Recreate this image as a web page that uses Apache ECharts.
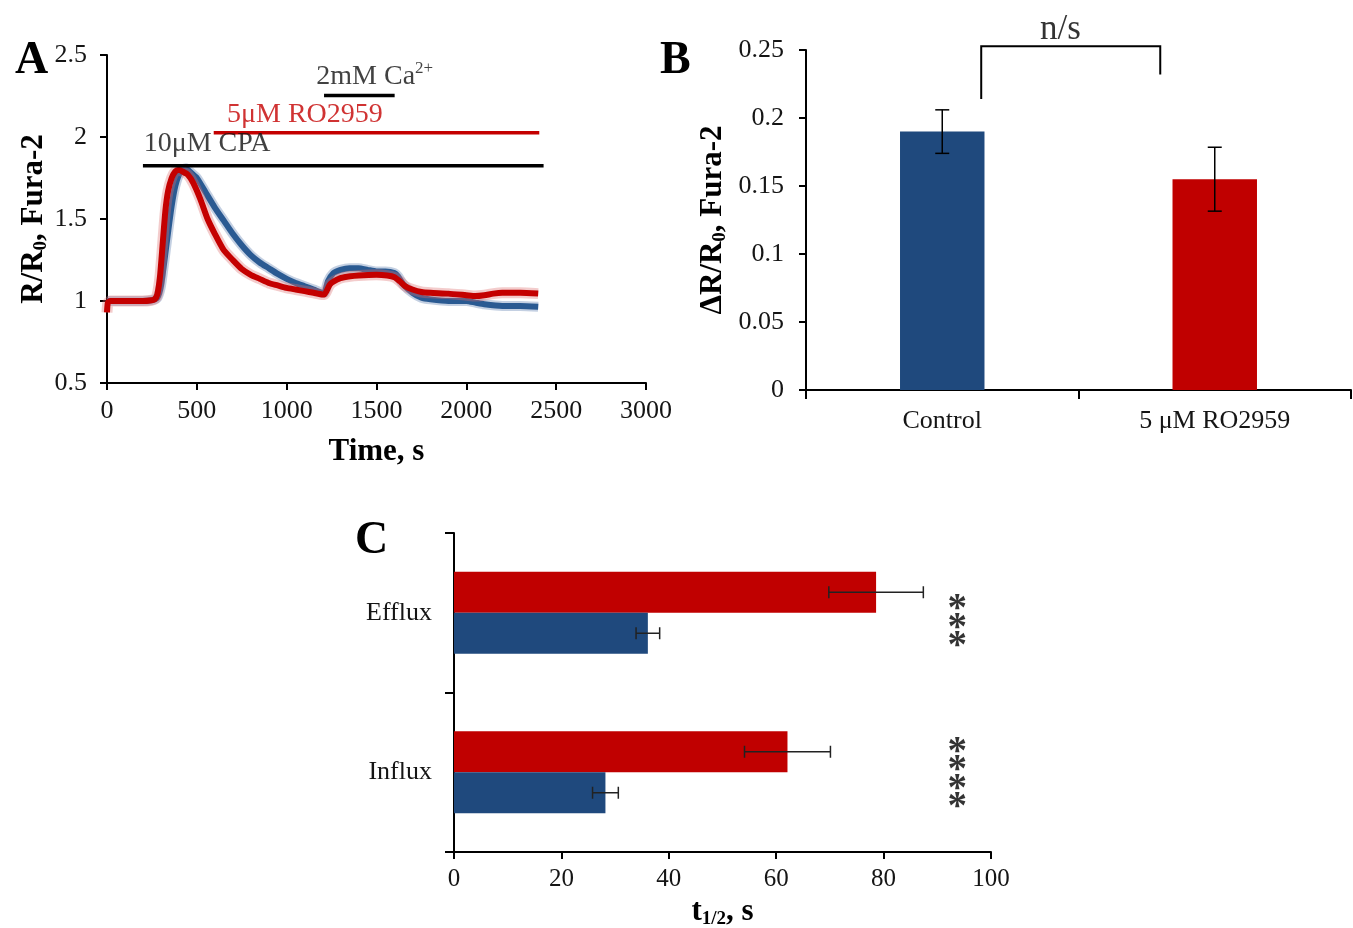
<!DOCTYPE html>
<html>
<head>
<meta charset="utf-8">
<script src="https://cdn.jsdelivr.net/npm/echarts@6/dist/echarts.min.js"></script>
<style>
  html, body { margin: 0; padding: 0; background: #fff; }
  #chart { width: 1353px; height: 928px; }
</style>
</head>
<body>
<div id="chart"></div>
<script>
// ---- Panel A: Fura-2 ratio traces ----
const controlTime  = [0,50,100,150,200,250,280,300,320,340,360,380,400,420,440,460,500,550,600,650,700,750,800,850,900,950,1000,1050,1100,1150,1200,1210,1230,1260,1300,1350,1400,1450,1500,1550,1600,1620,1650,1700,1750,1800,1900,2000,2050,2100,2200,2300,2400];
const controlRatio = [1.00,1.00,1.00,1.00,1.00,1.005,1.02,1.09,1.25,1.42,1.58,1.70,1.77,1.80,1.81,1.79,1.75,1.66,1.57,1.49,1.41,1.34,1.28,1.235,1.20,1.165,1.135,1.11,1.09,1.07,1.05,1.05,1.12,1.17,1.19,1.20,1.20,1.19,1.18,1.18,1.17,1.15,1.10,1.05,1.02,1.01,1.00,1.00,0.99,0.98,0.97,0.97,0.965];
const roTime  = [0,5,20,100,200,250,265,280,295,310,325,340,360,380,400,420,450,480,520,560,600,650,700,750,800,850,900,950,1000,1050,1100,1150,1200,1210,1240,1280,1320,1400,1500,1560,1600,1630,1660,1700,1750,1800,1900,2000,2050,2100,2150,2200,2300,2400];
const roRatio = [0.93,0.99,1.00,1.00,1.00,1.005,1.01,1.04,1.15,1.35,1.55,1.67,1.75,1.79,1.80,1.79,1.77,1.72,1.62,1.50,1.41,1.31,1.25,1.195,1.16,1.135,1.11,1.095,1.08,1.07,1.06,1.05,1.04,1.04,1.10,1.13,1.145,1.155,1.16,1.155,1.145,1.12,1.09,1.07,1.055,1.05,1.045,1.035,1.03,1.035,1.045,1.05,1.05,1.045];
const timeTicks = [0, 3000, 500];
const ratioTicks = [0.5, 2.5, 0.5];

// application bars: [start s, end s, level]
const cpaBar = [200, 2430, 1.824];
const roBar  = [594, 2406, 2.026];
const caBar  = [1208, 1601, 2.253];
// bar captions: [x s, y level, text]
const cpaCaption = [204, 1.957, '10μM CPA'];
const roCaption  = [668, 2.134, '5μM RO2959'];
const caCaption  = [1165, 2.37, '2mM Ca'];

// ---- Panel B: peak amplitude ----
const groups   = ['Control', '5 μM RO2959'];
const peakMean = [0.190, 0.155];
const peakSem  = [0.016, 0.0235];
const peakTicks = [0, 0.25, 0.05];
const bracketX = [0.143, 0.80];
const bracketY = [0.214, 0.2528, 0.232];
const nsLabel  = [0.434, 0.265, 'n/s'];

// ---- Panel C: half-times ----
const phases        = ['Influx', 'Efflux'];
const halfControl   = [28.2, 36.1];
const halfControlErr= [2.4, 2.2];
const halfRO        = [62.1, 78.6];
const halfROErr     = [8.0, 8.8];
const stars         = ['****', '***'];
const starX         = 93.7;
const halfTicks     = [0, 100, 20];

const SERIF = '"Liberation Serif", "Times New Roman", serif';
const BLUE_LINE = '#2a5a92';
const RED_LINE  = '#c40000';
const BLUE_BAR  = '#1f497d';
const RED_BAR   = '#c00000';
const TXT = '#151515';
const TICK_FS = 26;
const NAME_FS = 31;

const pairs = (xs, ys) => xs.map((x, i) => [x, ys[i]]);
const axisLine = { show: true, onZero: false, lineStyle: { color: '#000', width: 2 } };
const axisTick = { show: true, length: 7, lineStyle: { color: '#000', width: 2 } };
const tickLabel = (extra) => Object.assign({ color: TXT, fontFamily: SERIF, fontSize: TICK_FS }, extra || {});
const subName = () => ({
  fontFamily: SERIF, fontSize: NAME_FS, fontWeight: 'bold', color: '#000',
  rich: {
    b: { fontFamily: SERIF, fontSize: NAME_FS, fontWeight: 'bold', color: '#000', lineHeight: 34 },
    s: { fontFamily: SERIF, fontSize: 19, fontWeight: 'bold', color: '#000', lineHeight: 19, verticalAlign: 'bottom' }
  }
});

function barLine(b, color) {
  return {
    type: 'line', xAxisIndex: 0, yAxisIndex: 0, silent: true, symbol: 'none', z: 5,
    data: [[b[0], b[2]], [b[1], b[2]]],
    lineStyle: { color: color, width: 3.5 }
  };
}
function caption(c, color, rich) {
  return {
    value: [c[0], c[1]],
    label: {
      show: true, position: 'right', distance: 0, color: color,
      fontFamily: SERIF, fontSize: 28,
      formatter: rich ? '{n|' + c[2] + '}{sup|2+}' : c[2],
      rich: rich ? {
        n:   { fontFamily: SERIF, fontSize: 28, color: color, lineHeight: 32 },
        sup: { fontFamily: SERIF, fontSize: 17, color: color, lineHeight: 17, verticalAlign: 'top' }
      } : undefined
    }
  };
}
// I-shaped error bar between two pixel points
function ibar(a, b, cap, vertical, color) {
  const st = { stroke: color, lineWidth: 1.5 };
  const caps = vertical
    ? [[a[0] - cap, a[1], a[0] + cap, a[1]], [b[0] - cap, b[1], b[0] + cap, b[1]]]
    : [[a[0], a[1] - cap, a[0], a[1] + cap], [b[0], b[1] - cap, b[0], b[1] + cap]];
  return { type: 'group', children: [
    { type: 'line', shape: { x1: a[0], y1: a[1], x2: b[0], y2: b[1] }, style: st },
    ...caps.map(c => ({ type: 'line', shape: { x1: c[0], y1: c[1], x2: c[2], y2: c[3] }, style: st }))
  ] };
}

const chart = echarts.init(document.getElementById('chart'));
const letter = { fontFamily: SERIF, fontSize: 46, fontWeight: 'bold', color: '#000' };

const option = {
  animation: false,
  backgroundColor: '#fff',
  title: [
    { text: 'A', left: 10, top: 33, textStyle: letter },
    { text: 'B', left: 655, top: 33, textStyle: letter },
    { text: 'C', left: 350, top: 513, textStyle: letter }
  ],
  grid: [
    { left: 107, top: 55, width: 539, height: 328, outerBoundsMode: 'none' },
    { left: 806, top: 50, width: 545, height: 340, outerBoundsMode: 'none' },
    { left: 454, top: 533, width: 537, height: 319, outerBoundsMode: 'none' }
  ],
  xAxis: [
    {
      type: 'value', gridIndex: 0, min: timeTicks[0], max: timeTicks[1], interval: timeTicks[2],
      splitLine: { show: false }, axisLine, axisTick,
      axisLabel: tickLabel({ margin: 15, formatter: v => String(v) }),
      name: 'Time, s', nameLocation: 'middle', nameGap: 53,
      nameTextStyle: { fontFamily: SERIF, fontSize: NAME_FS, fontWeight: 'bold', color: '#000' }
    },
    {
      type: 'category', gridIndex: 1, data: groups, boundaryGap: true,
      axisLine, axisTick: { show: true, length: 9, lineStyle: { color: '#000', width: 2 } },
      axisLabel: tickLabel({ margin: 18 })
    },
    // same span as the category axis, in category-index units, for annotations
    { type: 'value', gridIndex: 1, min: -0.5, max: 1.5, show: false },
    {
      type: 'value', gridIndex: 2, min: halfTicks[0], max: halfTicks[1], interval: halfTicks[2],
      splitLine: { show: false }, axisLine, axisTick,
      axisLabel: tickLabel({ margin: 15, fontSize: 25 }),
      name: '{b|t}{s|1/2}{b|, s}', nameLocation: 'middle', nameGap: 43,
      nameTextStyle: subName()
    }
  ],
  yAxis: [
    {
      type: 'value', gridIndex: 0, min: ratioTicks[0], max: ratioTicks[1], interval: ratioTicks[2],
      splitLine: { show: false }, axisLine, axisTick,
      axisLabel: tickLabel({ margin: 20 }),
      name: '{b|R/R}{s|0}{b|, Fura-2}', nameLocation: 'middle', nameGap: 50, nameRotate: 90,
      nameTextStyle: subName()
    },
    {
      type: 'value', gridIndex: 1, min: peakTicks[0], max: peakTicks[1], interval: peakTicks[2],
      splitLine: { show: false }, axisLine, axisTick,
      axisLabel: tickLabel({ margin: 22 }),
      name: '{b|ΔR/R}{s|0}{b|, Fura-2}', nameLocation: 'middle', nameGap: 76, nameRotate: 90,
      nameTextStyle: subName()
    },
    {
      type: 'category', gridIndex: 2, data: phases, boundaryGap: true,
      axisLine, axisTick: { show: true, length: 9, lineStyle: { color: '#000', width: 2 } },
      axisLabel: tickLabel({ margin: 22 })
    }
  ],
  series: [
    // Panel A traces: pale error band under each mean trace
    { type: 'line', xAxisIndex: 0, yAxisIndex: 0, silent: true, symbol: 'none', smooth: 0.2,
      data: pairs(controlTime, controlRatio), lineStyle: { color: 'rgba(60,100,160,0.30)', width: 10 } },
    { type: 'line', xAxisIndex: 0, yAxisIndex: 0, silent: true, symbol: 'none', smooth: 0.2,
      data: pairs(controlTime, controlRatio), lineStyle: { color: BLUE_LINE, width: 6 } },
    { type: 'line', xAxisIndex: 0, yAxisIndex: 0, silent: true, symbol: 'none', smooth: 0.2,
      data: pairs(roTime, roRatio), lineStyle: { color: 'rgba(220,110,110,0.35)', width: 11 } },
    { type: 'line', xAxisIndex: 0, yAxisIndex: 0, silent: true, symbol: 'none', smooth: 0.2,
      data: pairs(roTime, roRatio), lineStyle: { color: RED_LINE, width: 6 } },
    barLine(cpaBar, '#000'),
    barLine(roBar, RED_LINE),
    barLine(caBar, '#000'),
    {
      type: 'scatter', xAxisIndex: 0, yAxisIndex: 0, silent: true, symbolSize: 0, z: 6,
      data: [caption(cpaCaption, '#111', false), caption(roCaption, RED_LINE, false), caption(caCaption, '#111', true)]
    },

    // Panel B
    {
      type: 'bar', xAxisIndex: 1, yAxisIndex: 1, barWidth: '31%', silent: true,
      data: peakMean.map((v, i) => ({ value: v, itemStyle: { color: i === 0 ? BLUE_BAR : RED_BAR } }))
    },
    {
      type: 'custom', xAxisIndex: 2, yAxisIndex: 1, silent: true, z: 10, clip: false,
      data: peakMean.map((m, i) => [i, m, peakSem[i]]),
      renderItem(params, api) {
        const i = api.value(0), m = api.value(1), e = api.value(2);
        return ibar(api.coord([i, m + e]), api.coord([i, m - e]), 7, true, '#000');
      }
    },
    {
      type: 'custom', xAxisIndex: 2, yAxisIndex: 1, silent: true, z: 10, clip: false,
      data: [[bracketX[0], bracketX[1], bracketY[0], bracketY[1], bracketY[2]]],
      renderItem(params, api) {
        const p0 = api.coord([api.value(0), api.value(2)]);
        const p1 = api.coord([api.value(0), api.value(3)]);
        const p2 = api.coord([api.value(1), api.value(3)]);
        const p3 = api.coord([api.value(1), api.value(4)]);
        return { type: 'polyline', shape: { points: [p0, p1, p2, p3] }, style: { stroke: '#000', lineWidth: 2, fill: null } };
      }
    },
    {
      type: 'scatter', xAxisIndex: 2, yAxisIndex: 1, silent: true, symbolSize: 0, clip: false,
      data: [[nsLabel[0], nsLabel[1]]],
      label: { show: true, position: 'inside', formatter: nsLabel[2], fontFamily: SERIF, fontSize: 35, color: '#000' }
    },

    // Panel C
    {
      type: 'bar', xAxisIndex: 3, yAxisIndex: 2, silent: true, barGap: '0%', barCategoryGap: '48.6%',
      data: halfRO, itemStyle: { color: RED_BAR }
    },
    {
      type: 'bar', xAxisIndex: 3, yAxisIndex: 2, silent: true, barGap: '0%', barCategoryGap: '48.6%',
      data: halfControl, itemStyle: { color: BLUE_BAR }
    },
    {
      type: 'custom', xAxisIndex: 3, yAxisIndex: 2, silent: true, z: 10,
      data: phases.flatMap((p, i) => [[halfRO[i], i, halfROErr[i], -1], [halfControl[i], i, halfControlErr[i], 1]]),
      renderItem(params, api) {
        const m = api.value(0), j = api.value(1), e = api.value(2), side = api.value(3);
        const band = api.size([0, 1])[1];
        const barH = band * (1 - 0.486) / 2;
        const lo = api.coord([m - e, j]), hi = api.coord([m + e, j]);
        const dy = side * barH / 2;
        return ibar([lo[0], lo[1] + dy], [hi[0], hi[1] + dy], 6, false, '#222');
      }
    },
    {
      type: 'scatter', xAxisIndex: 3, yAxisIndex: 2, silent: true, symbolSize: 0, clip: false,
      data: phases.map((p, i) => ({
        value: [starX, i],
        label: {
          show: true, position: 'inside', offset: [0, i === 1 ? 16 : 8],
          formatter: stars[i].split('').join('\n'),
          fontFamily: SERIF, fontWeight: 'bold', fontSize: 39, lineHeight: 18.5, color: '#000'
        }
      }))
    }
  ]
};

chart.setOption(option);
</script>
</body>
</html>
